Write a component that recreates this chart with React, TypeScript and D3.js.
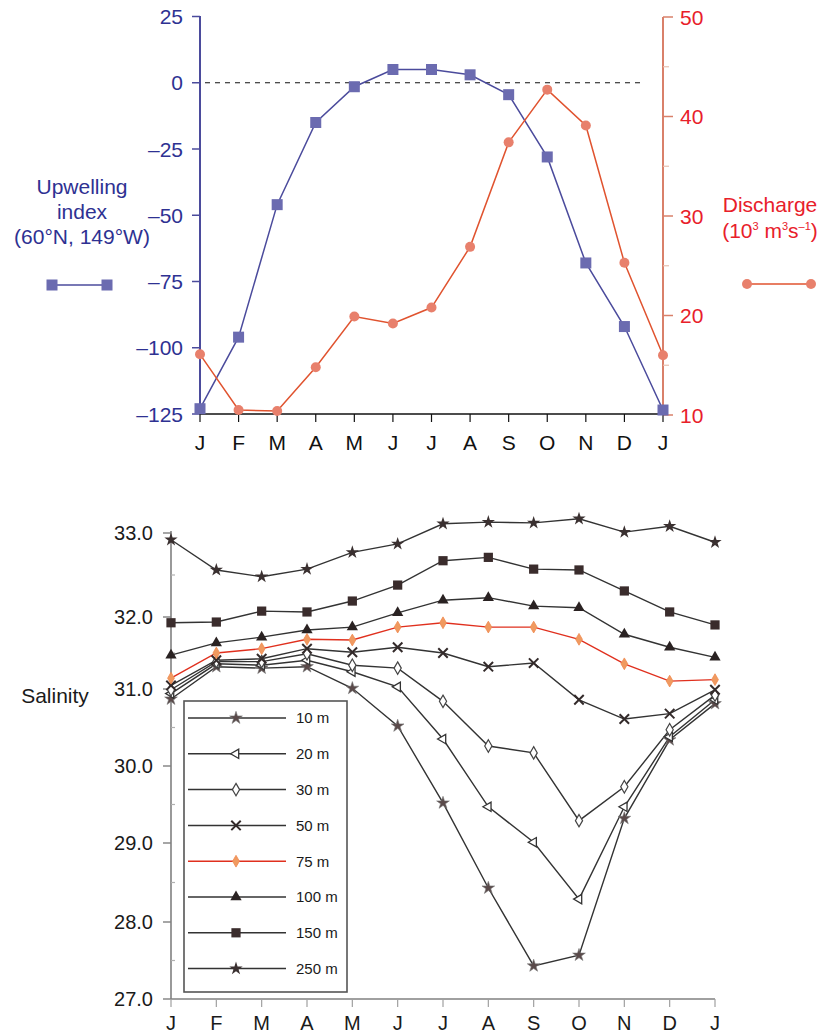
import React from "react";
import * as d3 from "d3";

const FONT = "'Liberation Sans', Arial, Helvetica, sans-serif";

const months = ["J", "F", "M", "A", "M", "J", "J", "A", "S", "O", "N", "D", "J"];

// top panel
const upwelling = [-123, -96, -46, -15, -1.5, 5, 5, 3, -4.5, -28, -68, -92, -123.5];
const discharge = [16.1, 10.5, 10.4, 14.8, 19.9, 19.2, 20.8, 26.9, 37.4, 42.7, 39.1, 25.3, 16.0];
const upwellingTicks = [25, 0, -25, -50, -75, -100, -125];
const dischargeTicks = [50, 40, 30, 20, 10];
const dischargeMinor = [45, 35, 25, 15];

// bottom panel
const depths = ["10 m", "20 m", "30 m", "50 m", "75 m", "100 m", "150 m", "250 m"];
const s10 = [30.87, 31.31, 31.29, 31.31, 31.01, 30.52, 29.52, 28.43, 27.43, 27.57, 29.32, 30.34, 30.81];
const s20 = [30.94, 31.35, 31.33, 31.4, 31.24, 31.03, 30.35, 29.47, 29.01, 28.29, 29.47, 30.38, 30.86];
const s30 = [30.99, 31.38, 31.38, 31.49, 31.33, 31.29, 30.84, 30.26, 30.17, 29.29, 29.73, 30.47, 30.92];
const s50 = [31.05, 31.4, 31.42, 31.56, 31.51, 31.58, 31.5, 31.31, 31.36, 30.86, 30.61, 30.68, 30.99];
const s75 = [31.15, 31.5, 31.56, 31.69, 31.68, 31.86, 31.92, 31.86, 31.86, 31.69, 31.35, 31.11, 31.13];
const s100 = [31.47, 31.64, 31.72, 31.82, 31.86, 32.05, 32.2, 32.23, 32.13, 32.11, 31.76, 31.58, 31.44];
const s150 = [31.92, 31.93, 32.07, 32.06, 32.19, 32.38, 32.67, 32.71, 32.57, 32.56, 32.31, 32.06, 31.89];
const s250 = [32.92, 32.56, 32.48, 32.57, 32.77, 32.87, 33.11, 33.13, 33.12, 33.17, 33.01, 33.08, 32.89];
const salinity = [s10, s20, s30, s50, s75, s100, s150, s250];
const salinityTicks = [33, 32, 31, 30, 29, 28, 27];
const salinityMinor = [32.5, 31.5, 30.5, 29.5, 28.5, 27.5];

const markerKinds = ["star10", "ltri", "diamond", "x", "orange", "tri", "square", "star"];

// scales
const xTop = d3.scaleLinear().domain([0, 12]).range([200, 663]);
const yUp = d3.scaleLinear().domain([-125, 25]).range([414, 16.5]);
const yDis = d3.scaleLinear().domain([10, 50]).range([415, 17]);

const xBot = d3.scaleLinear().domain([0, 12]).range([171, 715]);
// the printed axis is slightly uneven, so map each labelled value
const ySal = d3
  .scaleLinear()
  .domain([27, 28, 29, 30, 31, 32, 33])
  .range([999, 922, 843, 766, 689, 617, 533]);

const upColor = "#4b4b9c";
const upText = "#2e3192";
const disColor = "#e0532f";
const disText = "#e8202a";

const fmtUp = (d: number) => (d < 0 ? "\u2013" + Math.abs(d) : String(d));

function Marker({ kind, x, y }: { kind: string; x: number; y: number }) {
  const sym = (type: any, size: number) => d3.symbol().type(type).size(size)()!;
  const t = `translate(${x},${y})`;
  switch (kind) {
    case "star10":
      return <path transform={t} d={sym(d3.symbolStar, 50)} fill="#5a4a4a" stroke="#777" strokeWidth={0.6} />;
    case "ltri":
      return <path transform={`${t} rotate(-90)`} d={sym(d3.symbolTriangle, 38)} fill="#fff" stroke="#333" strokeWidth={1.3} />;
    case "diamond":
      return <path transform={t} d={sym(d3.symbolDiamond, 45)} fill="#fff" stroke="#444" strokeWidth={1.2} />;
    case "x":
      return <path transform={t} d={sym(d3.symbolX, 60)} fill="none" stroke="#332a2a" strokeWidth={2} />;
    case "orange":
      return <path transform={t} d={sym(d3.symbolDiamond, 40)} fill="#f09a60" stroke="#f08a50" strokeWidth={0.8} />;
    case "tri":
      return <path transform={t} d={sym(d3.symbolTriangle, 55)} fill="#2a2222" />;
    case "square":
      return <path transform={t} d={sym(d3.symbolSquare, 85)} fill="#3a2c2c" />;
    default:
      return <path transform={t} d={sym(d3.symbolStar, 55)} fill="#3a3030" />;
  }
}

export default function App() {
  const upLine = d3.line<number>().x((_, i) => xTop(i)).y((d) => yUp(d))(upwelling)!;
  const disLine = d3.line<number>().x((_, i) => xTop(i)).y((d) => yDis(d))(discharge)!;
  const salLine = d3.line<number>().x((_, i) => xBot(i)).y((d) => ySal(d));

  const legendTop = 718;
  const legendStep = 35.8;

  return (
    <svg
      width={823}
      height={1035}
      style={{ position: "absolute", left: 0, top: 0, background: "#fff" }}
      fontFamily={FONT}
    >
      {/* ---------- top panel ---------- */}
      <line x1={205} x2={645} y1={yUp(0)} y2={yUp(0)} stroke="#111" strokeWidth={1} strokeDasharray="5,5" />

      {/* left axis */}
      <line x1={200} x2={200} y1={16} y2={414} stroke={upColor} strokeWidth={2} />
      {upwellingTicks.map((d) => (
        <g key={"ut" + d}>
          <line x1={192} x2={200} y1={yUp(d)} y2={yUp(d)} stroke={upColor} strokeWidth={1.5} />
          <text x={183} y={yUp(d)} dy="0.36em" textAnchor="end" fontSize={21} fill={upText}>
            {fmtUp(d)}
          </text>
        </g>
      ))}

      {/* right axis */}
      <line x1={663} x2={663} y1={17} y2={415} stroke="#d9806a" strokeWidth={2} />
      {dischargeTicks.map((d) => (
        <g key={"dt" + d}>
          <line x1={663} x2={673} y1={yDis(d)} y2={yDis(d)} stroke="#d9806a" strokeWidth={1.5} />
          <text x={680} y={yDis(d)} dy="0.36em" fontSize={21} fill={disText}>
            {d}
          </text>
        </g>
      ))}
      {dischargeMinor.map((d) => (
        <line key={"dm" + d} x1={663} x2={669} y1={yDis(d)} y2={yDis(d)} stroke="#e8c0b0" strokeWidth={1.2} />
      ))}

      {/* bottom axis */}
      <line x1={200} x2={663} y1={414} y2={414} stroke="#111" strokeWidth={1.6} />
      {months.map((m, i) => (
        <g key={"mt" + i}>
          <line x1={xTop(i)} x2={xTop(i)} y1={414} y2={422} stroke="#111" strokeWidth={1.2} />
          <text x={xTop(i)} y={450} textAnchor="middle" fontSize={21} fill="#111">
            {m}
          </text>
        </g>
      ))}

      <path d={upLine} fill="none" stroke={upColor} strokeWidth={1.5} />
      <path d={disLine} fill="none" stroke={disColor} strokeWidth={1.5} />
      {upwelling.map((d, i) => (
        <rect key={"us" + i} x={xTop(i) - 5.5} y={yUp(d) - 5.5} width={11} height={11} fill="#6b6bb0" />
      ))}
      {discharge.map((d, i) => (
        <circle key={"dc" + i} cx={xTop(i)} cy={yDis(d)} r={5} fill="#e8806c" />
      ))}

      {/* left legend */}
      <g fill={upText} fontSize={21} textAnchor="middle">
        <text x={82} y={194}>Upwelling</text>
        <text x={82} y={219}>index</text>
        <text x={82} y={244}>(60°N, 149°W)</text>
      </g>
      <line x1={52} x2={107} y1={285} y2={285} stroke={upColor} strokeWidth={1.6} />
      <rect x={46.5} y={279.5} width={11} height={11} fill="#6b6bb0" />
      <rect x={101.5} y={279.5} width={11} height={11} fill="#6b6bb0" />

      {/* right legend */}
      <g fill={disText} fontSize={21} textAnchor="middle">
        <text x={770} y={212}>Discharge</text>
        <text x={770} y={238}>
          (10<tspan fontSize={11} dy={-8}>3</tspan>
          <tspan dy={8}> m</tspan>
          <tspan fontSize={11} dy={-8}>3</tspan>
          <tspan dy={8}>s</tspan>
          <tspan fontSize={11} dy={-8}>{"\u20131"}</tspan>
          <tspan dy={8}>)</tspan>
        </text>
      </g>
      <line x1={747} x2={811} y1={284} y2={284} stroke={disColor} strokeWidth={1.6} />
      <circle cx={747} cy={284} r={5} fill="#e8806c" />
      <circle cx={811} cy={284} r={5} fill="#e8806c" />

      {/* ---------- bottom panel ---------- */}
      <line x1={171} x2={171} y1={531} y2={999} stroke="#808080" strokeWidth={1.6} />
      {salinityTicks.map((d) => (
        <g key={"st" + d}>
          <line x1={163} x2={171} y1={ySal(d)} y2={ySal(d)} stroke="#808080" strokeWidth={1.4} />
          <text x={153} y={ySal(d)} dy="0.36em" textAnchor="end" fontSize={20} fill="#1a1a1a">
            {d.toFixed(1)}
          </text>
        </g>
      ))}
      {salinityMinor.map((d) => (
        <line key={"sm" + d} x1={171} x2={175} y1={ySal(d)} y2={ySal(d)} stroke="#b0b0b0" strokeWidth={1.2} />
      ))}
      <line x1={171} x2={715} y1={999} y2={999} stroke="#808080" strokeWidth={1.6} />
      {months.map((m, i) => (
        <g key={"bt" + i}>
          <line x1={xBot(i)} x2={xBot(i)} y1={999} y2={1007} stroke="#a0a0a0" strokeWidth={1.2} />
          <text x={xBot(i)} y={1030} textAnchor="middle" fontSize={20} fill="#1a1a1a">
            {m}
          </text>
        </g>
      ))}
      <text x={55} y={703} textAnchor="middle" fontSize={21} fill="#1a1a1a">
        Salinity
      </text>

      {salinity.map((s, k) => (
        <path
          key={"sl" + k}
          d={salLine(s)!}
          fill="none"
          stroke={k === 4 ? "#e0301e" : "#333"}
          strokeWidth={1.4}
        />
      ))}
      {salinity.map((s, k) =>
        s.map((d, i) => <Marker key={`sp${k}-${i}`} kind={markerKinds[k]} x={xBot(i)} y={ySal(d)} />)
      )}

      {/* legend box */}
      <rect x={184} y={701} width={163} height={291} fill="#fff" stroke="#555" strokeWidth={1.6} />
      {depths.map((lab, k) => {
        const y = legendTop + k * legendStep;
        return (
          <g key={"lg" + k}>
            <line x1={188} x2={286} y1={y} y2={y} stroke={k === 4 ? "#e0301e" : "#333"} strokeWidth={1.5} />
            <Marker kind={markerKinds[k]} x={236} y={y} />
            <text x={296} y={y} dy="0.36em" fontSize={15} fill="#1a1a1a">
              {lab}
            </text>
          </g>
        );
      })}
    </svg>
  );
}
